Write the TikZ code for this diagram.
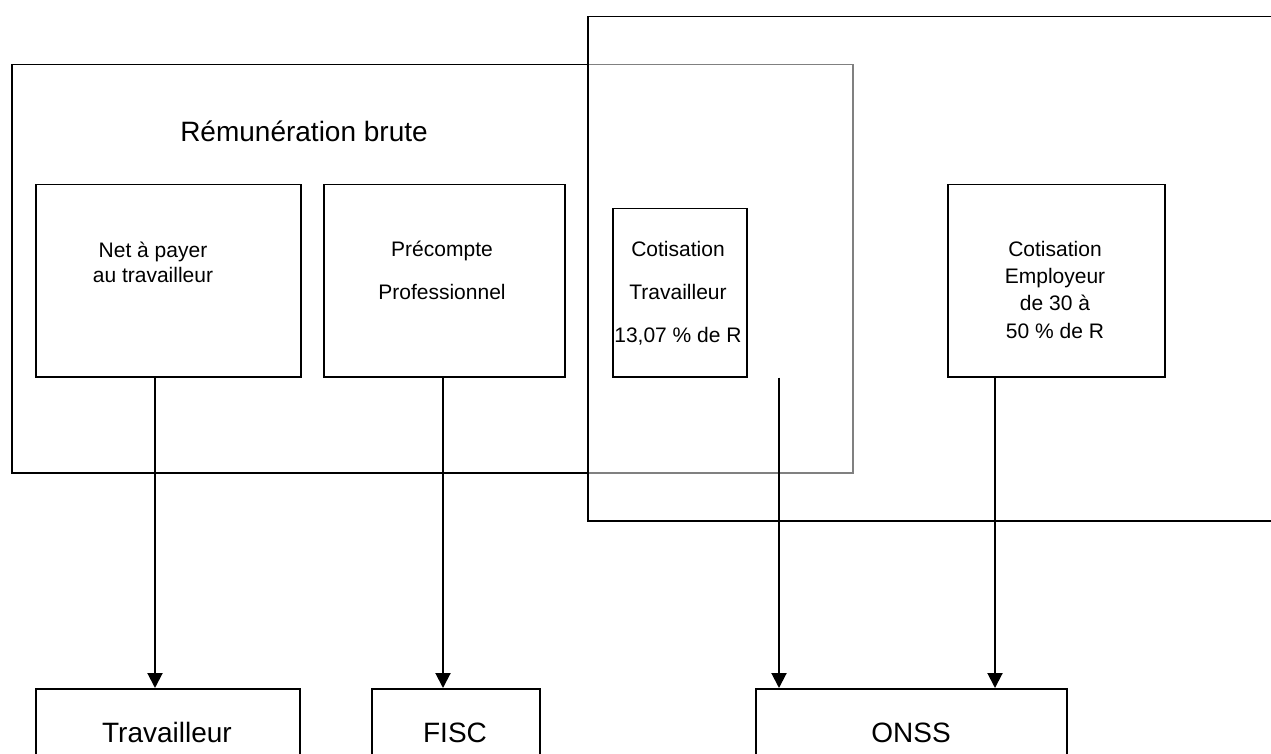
\documentclass[tikz,border=0pt]{standalone}
\usepackage{fontspec}
\setmainfont{Liberation Sans}
\usetikzlibrary{arrows.meta}
\newcommand\txtblock[3]{{\fontsize{#1}{#2}\selectfont\begin{tabular}[t]{@{}c@{}}#3\end{tabular}}}
\begin{document}
\begin{tikzpicture}[x=1pt,y=-1pt,
  bx/.style={draw=black, line width=1.5pt, anchor=north west, inner sep=0pt},
  lbl/.style={anchor=base, inner sep=0pt},
  arr/.style={line width=2pt, -{Triangle[width=15pt,length=15pt]}}]
\useasboundingbox (0,0) rectangle (1271,754);
% outer frames
\node[bx, minimum width=841pt, minimum height=408pt] (remun) at (11,64) {};
\node[bx, fill=white, fill opacity=0.5, draw opacity=1, minimum width=720pt, minimum height=504pt] (onssframe) at (587,16) {};
% inner boxes
\node[bx, minimum width=265pt, minimum height=192pt] (net) at (35,184) {};
\node[bx, minimum width=241pt, minimum height=192pt] (prec) at (323,184) {};
\node[bx, minimum width=134pt, minimum height=168pt] (cotw) at (612,208) {};
\node[bx, minimum width=217pt, minimum height=192pt] (cote) at (947,184) {};
% destination boxes
\node[bx, minimum width=264pt, minimum height=100pt] (trav) at (35,688) {};
\node[bx, minimum width=168pt, minimum height=100pt] (fisc) at (371,688) {};
\node[bx, minimum width=311pt, minimum height=100pt] (onss) at (755,688) {};
% texts
\node[lbl] (tremun) at (304,142) {\fontsize{28}{32}\selectfont Rémunération brute};
\node[lbl] (tnet) at (153,257) {\txtblock{21}{25}{Net à payer\\au travailleur}};
\node[lbl] (tprec) at (442,256) {\txtblock{21}{43}{Précompte\\Professionnel}};
\node[lbl] (tcotw) at (678,256) {\txtblock{21}{43}{Cotisation\\Travailleur\\13,07 \% de R}};
\node[lbl] (tcote) at (1055,256) {\txtblock{21}{27.4}{Cotisation\\Employeur\\de 30 à\\50 \% de R}};
\node[lbl] (ttrav) at (167,742) {\fontsize{28}{32}\selectfont Travailleur};
\node[lbl] (tfisc) at (455,742) {\fontsize{28}{32}\selectfont FISC};
\node[lbl] (tonss) at (911,742) {\fontsize{28}{32}\selectfont ONSS};
% arrows
\coordinate (x1) at (155,0);
\coordinate (x2) at (443,0);
\coordinate (x3) at (779,0);
\coordinate (x4) at (995,0);
\draw[arr] (net.south -| x1) -- (trav.north -| x1);
\draw[arr] (prec.south -| x2) -- (fisc.north -| x2);
\draw[arr] (cotw.south -| x3) -- (onss.north -| x3);
\draw[arr] (cote.south -| x4) -- (onss.north -| x4);
\end{tikzpicture}
\end{document}
